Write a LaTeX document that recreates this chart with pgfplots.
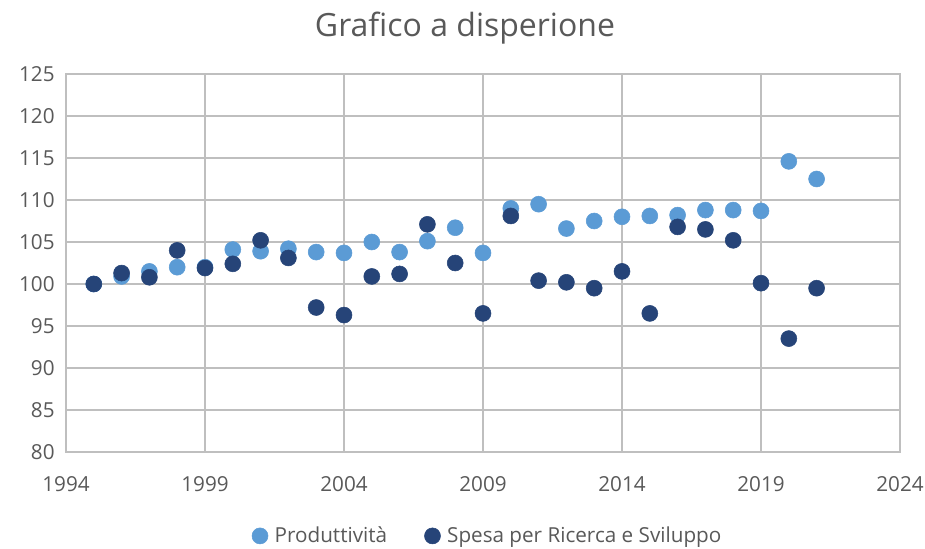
\documentclass[border=0pt]{standalone}
\usepackage{fontspec}
\setmainfont{Open Sans}
\usepackage{pgfplots}
\pgfplotsset{compat=1.18}
\definecolor{lb}{HTML}{5B9BD5}
\definecolor{db}{HTML}{264478}
\definecolor{txt}{HTML}{595959}
\definecolor{grd}{HTML}{BFBFBF}
\begin{document}
\begin{tikzpicture}
\path[use as bounding box] (0,0) rectangle (693.75pt,411.75pt);
\begin{axis}[at={(49.5pt,72.75pt)}, anchor=south west, scale only axis,
  width=625.5pt, height=283.5pt,
  xmin=1994, xmax=2024, ymin=80, ymax=125,
  xtick={1994,1999,...,2024}, ytick={80,85,...,125},
  grid=major, major grid style={grd, line width=1.2pt},
  axis line style={grd, line width=1.2pt}, tick style={draw=none},
  ticklabel style={font=\fontsize{15.5}{18}\selectfont, text=txt},
  /pgf/number format/assume math mode=true, /pgf/number format/1000 sep={},
  yticklabel style={xshift=-5pt}, xticklabel style={yshift=-15pt},
  legend columns=2,
  legend style={at={(0.506,-0.222)}, anchor=center, draw=none,
    font=\fontsize{15.5}{18}\selectfont, text=txt,
    inner sep=0pt,
    /tikz/every odd column/.append style={column sep=3pt},
    /tikz/every even column/.append style={column sep=26pt}},
  clip=false,
]
\addplot[only marks, mark=*, mark size=6pt, color=lb, mark options={fill=lb, draw=lb}] coordinates {
(1995,100.0) (1996,100.9) (1997,101.5) (1998,102.0) (1999,102.0) (2000,104.1)
(2001,103.9) (2002,104.2) (2003,103.8) (2004,103.7) (2005,105.0) (2006,103.8)
(2007,105.1) (2008,106.7) (2009,103.7) (2010,109.0) (2011,109.5) (2012,106.6)
(2013,107.5) (2014,108.0) (2015,108.1) (2016,108.2) (2017,108.8) (2018,108.8)
(2019,108.7) (2020,114.6) (2021,112.5)
};
\addlegendentry{Produttività}
\addplot[only marks, mark=*, mark size=6pt, color=db, mark options={fill=db, draw=db}] coordinates {
(1995,100.0) (1996,101.3) (1997,100.8) (1998,104.0) (1999,101.9) (2000,102.4)
(2001,105.2) (2002,103.1) (2003,97.2) (2004,96.3) (2005,100.9) (2006,101.2)
(2007,107.1) (2008,102.5) (2009,96.5) (2010,108.1) (2011,100.4) (2012,100.2)
(2013,99.5) (2014,101.5) (2015,96.5) (2016,106.8) (2017,106.5) (2018,105.2)
(2019,100.1) (2020,93.5) (2021,99.5)
};
\addlegendentry{Spesa per Ricerca e Sviluppo}
\end{axis}
\node[text=txt, font=\fontsize{24}{28}\selectfont, anchor=base] at (348.75pt,384.2pt) {Grafico a disperione};
\end{tikzpicture}
\end{document}
